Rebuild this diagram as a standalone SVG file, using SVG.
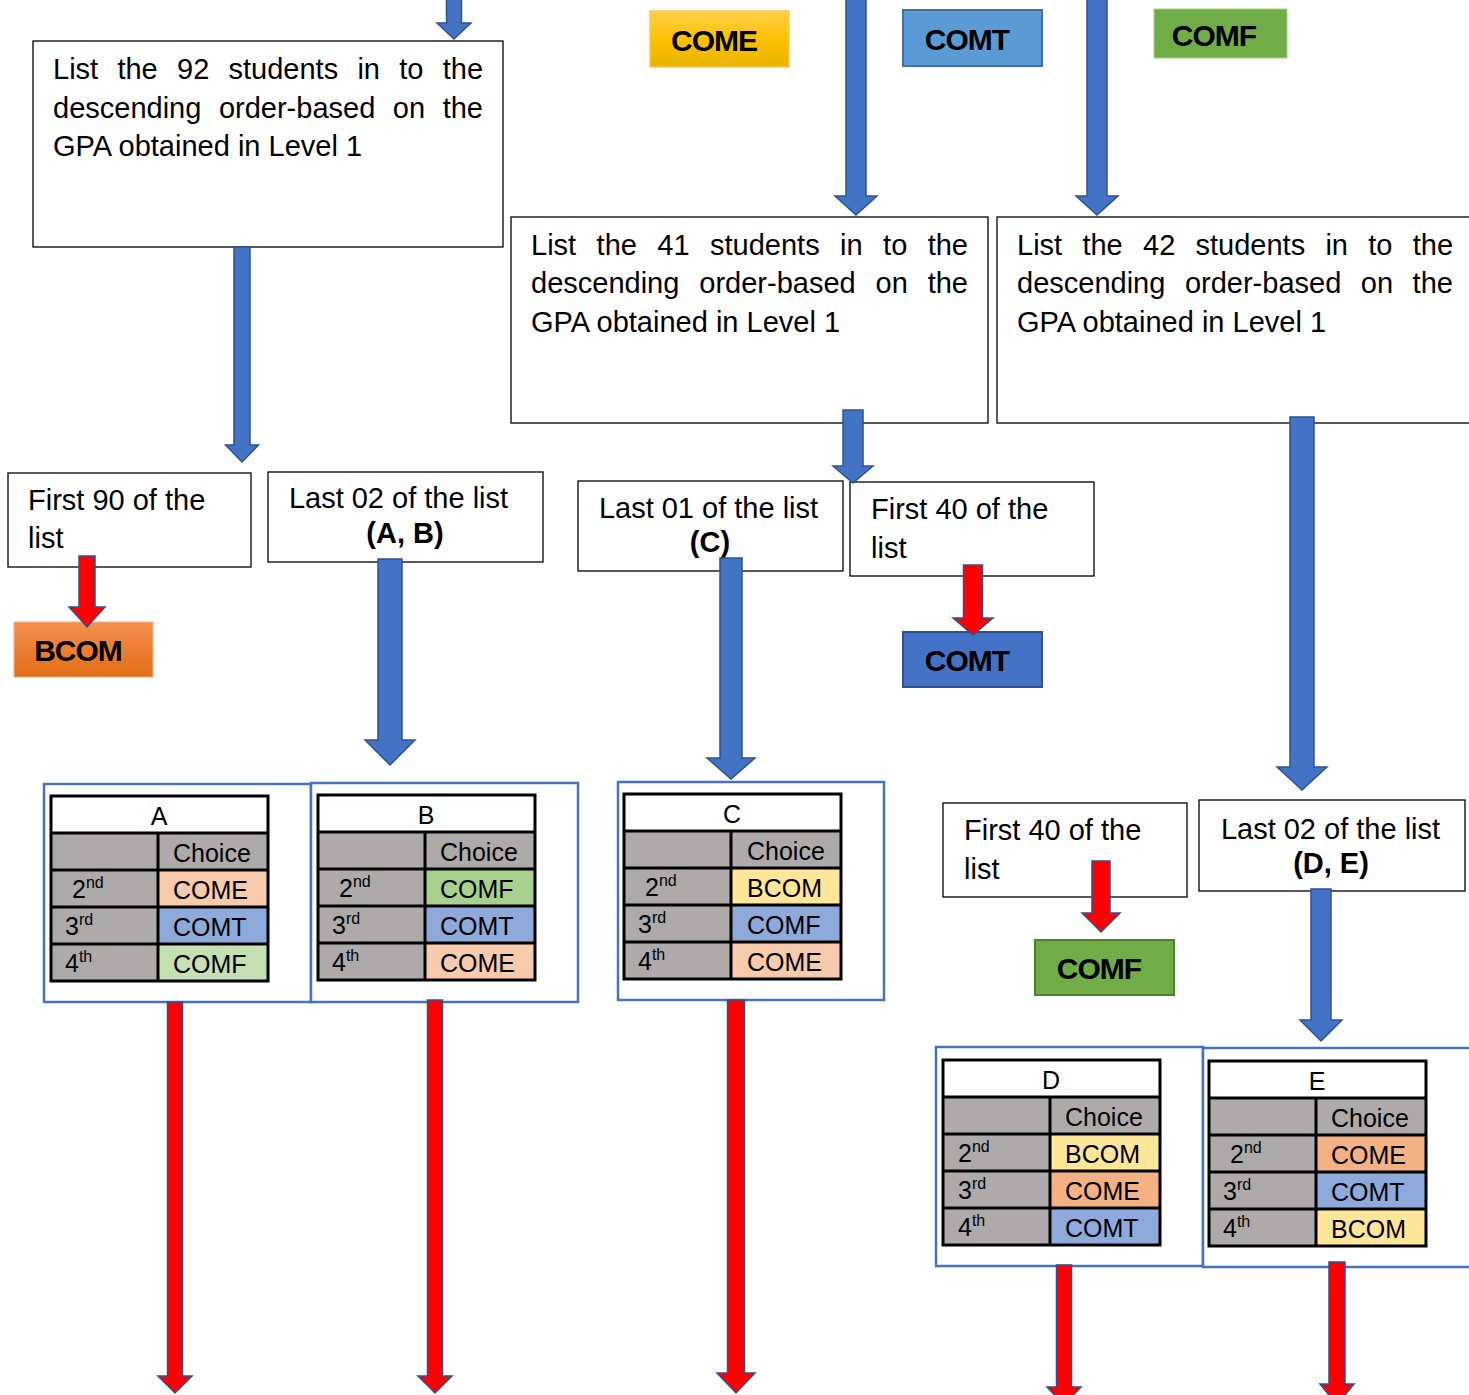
<svg xmlns="http://www.w3.org/2000/svg" width="1469" height="1395" viewBox="0 0 1469 1395">
  <style>
    .t{font-family:"Liberation Sans",Arial,sans-serif;font-size:29px;fill:#000}
    .b{font-weight:bold}
    .tag{font-family:"Liberation Sans",Arial,sans-serif;font-size:30px;font-weight:bold;letter-spacing:-1px;fill:#000;text-anchor:middle}
    .box{fill:#fff;stroke:#000;stroke-width:1.3}
    .blue{fill:#4472C4;stroke:#2F528F;stroke-width:1.5}
    .red{fill:#FF0000;stroke:#2F528F;stroke-width:1.5}
    .frame{fill:#fff;stroke:#4472C4;stroke-width:2.5}
    .tc{font-family:"Liberation Sans",Arial,sans-serif;font-size:25px;fill:#000}
    .sup{font-size:16px}
    .grid{fill:none;stroke:#000;stroke-width:3}
    .gray{fill:#AEAAAA}
    .mid{text-anchor:middle}
  </style>
  <defs>
    <linearGradient id="gGold" x1="0" y1="0" x2="0" y2="1">
      <stop offset="0" stop-color="#FFD04A"/>
      <stop offset="0.5" stop-color="#FFC000"/>
      <stop offset="1" stop-color="#E8B400"/>
    </linearGradient>
    <linearGradient id="gOrange" x1="0" y1="0" x2="0" y2="1">
      <stop offset="0" stop-color="#F3914F"/>
      <stop offset="1" stop-color="#E56B16"/>
    </linearGradient>
    <!-- shared table grid: header + 4 rows, two columns -->
    <path id="tblGrid" class="grid" d="M0,0H217V185H0Z M0,37H217 M0,74H217 M0,111H217 M0,148H217 M107,37V185"/>
  </defs>

  <!-- programme tags -->
  <g id="tag-come"><rect x="650" y="11" width="139" height="56" fill="url(#gGold)" stroke="#FFC94A" stroke-width="1.5"/><text class="tag" x="714" y="51">COME</text></g>
  <g id="tag-comt"><rect x="903" y="10" width="139" height="56" fill="#5B9BD5" stroke="#41719C" stroke-width="2"/><text class="tag" x="967" y="50">COMT</text></g>
  <g id="tag-comf"><rect x="1154" y="9" width="133" height="49" fill="#70AD47" stroke="#A9D18E" stroke-width="1"/><text class="tag" x="1214" y="46">COMF</text></g>

  <!-- ranking boxes -->
  <g id="list92">
    <rect class="box" x="33" y="41" width="470" height="206"/>
    <text class="t" y="79"><tspan x="53">List</tspan><tspan x="117.4">the</tspan><tspan x="177">92</tspan><tspan x="228.5">students</tspan><tspan x="357.4">in</tspan><tspan x="399.3">to</tspan><tspan x="442.8">the</tspan></text>
    <text class="t" y="117.5"><tspan x="53">descending</tspan><tspan x="218.9">order-based</tspan><tspan x="392.8">on</tspan><tspan x="442.7">the</tspan></text>
    <text class="t" x="53" y="156">GPA obtained in Level 1</text>
  </g>
  <g id="list41">
    <rect class="box" x="511" y="217" width="477" height="206"/>
    <text class="t" y="255"><tspan x="531">List</tspan><tspan x="596.6">the</tspan><tspan x="657.3">41</tspan><tspan x="710">students</tspan><tspan x="840">in</tspan><tspan x="883.1">to</tspan><tspan x="927.7">the</tspan></text>
    <text class="t" y="293"><tspan x="531">descending</tspan><tspan x="699.3">order-based</tspan><tspan x="875.5">on</tspan><tspan x="927.7">the</tspan></text>
    <text class="t" x="531" y="332">GPA obtained in Level 1</text>
  </g>
  <g id="list42">
    <rect class="box" x="997" y="217" width="480" height="206"/>
    <text class="t" y="255"><tspan x="1017">List</tspan><tspan x="1082.4">the</tspan><tspan x="1143">42</tspan><tspan x="1195.5">students</tspan><tspan x="1325.4">in</tspan><tspan x="1368.3">to</tspan><tspan x="1412.8">the</tspan></text>
    <text class="t" y="293"><tspan x="1017">descending</tspan><tspan x="1184.9">order-based</tspan><tspan x="1360.8">on</tspan><tspan x="1412.6">the</tspan></text>
    <text class="t" x="1017" y="332">GPA obtained in Level 1</text>
  </g>

  <!-- split boxes -->
  <g id="first90">
    <rect class="box" x="8" y="473" width="243" height="94"/>
    <text class="t" x="28" y="510">First 90 of the</text>
    <text class="t" x="28" y="548">list</text>
  </g>
  <g id="last02ab">
    <rect class="box" x="268" y="472" width="275" height="90"/>
    <text class="t mid" x="398.5" y="508">Last 02 of the list</text>
    <text class="t b mid" x="405" y="543">(A, B)</text>
  </g>
  <g id="last01c">
    <rect class="box" x="578" y="481" width="265" height="90"/>
    <text class="t mid" x="708.5" y="518">Last 01 of the list</text>
    <text class="t b mid" x="710" y="552">(C)</text>
  </g>
  <g id="first40a">
    <rect class="box" x="850" y="482" width="244" height="94"/>
    <text class="t" x="871" y="519">First 40 of the</text>
    <text class="t" x="871" y="558">list</text>
  </g>
  <g id="first40b">
    <rect class="box" x="943" y="803" width="244" height="94"/>
    <text class="t" x="964" y="840">First 40 of the</text>
    <text class="t" x="964" y="879">list</text>
  </g>
  <g id="last02de">
    <rect class="box" x="1199" y="800" width="266" height="91"/>
    <text class="t mid" x="1330.5" y="839">Last 02 of the list</text>
    <text class="t b mid" x="1331" y="873">(D, E)</text>
  </g>

  <!-- outcome tags -->
  <g id="out-bcom"><rect x="14" y="622" width="139" height="55" fill="url(#gOrange)" stroke="#F4B183" stroke-width="1"/><text class="tag" x="78" y="661">BCOM</text></g>
  <g id="out-comt"><rect x="903" y="632" width="139" height="55" fill="#4472C4" stroke="#2F528F" stroke-width="2"/><text class="tag" x="967" y="671">COMT</text></g>
  <g id="out-comf"><rect x="1035" y="940" width="139" height="55" fill="#70AD47" stroke="#507E32" stroke-width="2"/><text class="tag" x="1099" y="979">COMF</text></g>

  <!-- choice tables -->
  <g id="tableA" transform="translate(51,796)">
    <rect class="frame" x="-7" y="-12" width="267" height="218"/>
    <rect x="0" y="0" width="217" height="37" fill="#fff"/>
    <rect class="gray" x="0" y="37" width="217" height="148"/>
    <rect x="107" y="74" width="110" height="37" fill="#F8CBAD"/>
    <rect x="107" y="111" width="110" height="37" fill="#8EAADB"/>
    <rect x="107" y="148" width="110" height="37" fill="#C5E0B3"/>
    <use href="#tblGrid"/>
    <text class="tc mid" x="108" y="29">A</text>
    <text class="tc" x="122" y="66">Choice</text>
    <text class="tc" x="21" y="102">2<tspan class="sup" dy="-10">nd</tspan></text>
    <text class="tc" x="14" y="139">3<tspan class="sup" dy="-10">rd</tspan></text>
    <text class="tc" x="14" y="176">4<tspan class="sup" dy="-10">th</tspan></text>
    <text class="tc" x="122" y="103">COME</text>
    <text class="tc" x="122" y="140">COMT</text>
    <text class="tc" x="122" y="177">COMF</text>
  </g>
  <g id="tableB" transform="translate(318,795)">
    <rect class="frame" x="-7" y="-12" width="267" height="219"/>
    <rect x="0" y="0" width="217" height="37" fill="#fff"/>
    <rect class="gray" x="0" y="37" width="217" height="148"/>
    <rect x="107" y="74" width="110" height="37" fill="#A9D18E"/>
    <rect x="107" y="111" width="110" height="37" fill="#8EAADB"/>
    <rect x="107" y="148" width="110" height="37" fill="#F8CBAD"/>
    <use href="#tblGrid"/>
    <text class="tc mid" x="108" y="29">B</text>
    <text class="tc" x="122" y="66">Choice</text>
    <text class="tc" x="21" y="102">2<tspan class="sup" dy="-10">nd</tspan></text>
    <text class="tc" x="14" y="139">3<tspan class="sup" dy="-10">rd</tspan></text>
    <text class="tc" x="14" y="176">4<tspan class="sup" dy="-10">th</tspan></text>
    <text class="tc" x="122" y="103">COMF</text>
    <text class="tc" x="122" y="140">COMT</text>
    <text class="tc" x="122" y="177">COME</text>
  </g>
  <g id="tableC" transform="translate(624,794)">
    <rect class="frame" x="-6" y="-12" width="266" height="218"/>
    <rect x="0" y="0" width="217" height="37" fill="#fff"/>
    <rect class="gray" x="0" y="37" width="217" height="148"/>
    <rect x="108" y="74" width="109" height="37" fill="#FFE699"/>
    <rect x="108" y="111" width="109" height="37" fill="#8EAADB"/>
    <rect x="108" y="148" width="109" height="37" fill="#F8CBAD"/>
    <use href="#tblGrid"/>
    <text class="tc mid" x="108" y="29">C</text>
    <text class="tc" x="123" y="66">Choice</text>
    <text class="tc" x="21" y="102">2<tspan class="sup" dy="-10">nd</tspan></text>
    <text class="tc" x="14" y="139">3<tspan class="sup" dy="-10">rd</tspan></text>
    <text class="tc" x="14" y="176">4<tspan class="sup" dy="-10">th</tspan></text>
    <text class="tc" x="123" y="103">BCOM</text>
    <text class="tc" x="123" y="140">COMF</text>
    <text class="tc" x="123" y="177">COME</text>
  </g>
  <g id="tableD" transform="translate(943,1060)">
    <rect class="frame" x="-7" y="-13" width="267" height="219"/>
    <rect x="0" y="0" width="217" height="37" fill="#fff"/>
    <rect class="gray" x="0" y="37" width="217" height="148"/>
    <rect x="107" y="74" width="110" height="37" fill="#FFE699"/>
    <rect x="107" y="111" width="110" height="37" fill="#F4B183"/>
    <rect x="107" y="148" width="110" height="37" fill="#8EAADB"/>
    <use href="#tblGrid"/>
    <text class="tc mid" x="108" y="29">D</text>
    <text class="tc" x="122" y="66">Choice</text>
    <text class="tc" x="15" y="102">2<tspan class="sup" dy="-10">nd</tspan></text>
    <text class="tc" x="15" y="139">3<tspan class="sup" dy="-10">rd</tspan></text>
    <text class="tc" x="15" y="176">4<tspan class="sup" dy="-10">th</tspan></text>
    <text class="tc" x="122" y="103">BCOM</text>
    <text class="tc" x="122" y="140">COME</text>
    <text class="tc" x="122" y="177">COMT</text>
  </g>
  <g id="tableE" transform="translate(1209,1061)">
    <rect class="frame" x="-6" y="-13" width="272" height="219"/>
    <rect x="0" y="0" width="217" height="37" fill="#fff"/>
    <rect class="gray" x="0" y="37" width="217" height="148"/>
    <rect x="107" y="74" width="110" height="37" fill="#F4B183"/>
    <rect x="107" y="111" width="110" height="37" fill="#8EAADB"/>
    <rect x="107" y="148" width="110" height="37" fill="#FFE699"/>
    <use href="#tblGrid"/>
    <text class="tc mid" x="108" y="29">E</text>
    <text class="tc" x="122" y="66">Choice</text>
    <text class="tc" x="21" y="102">2<tspan class="sup" dy="-10">nd</tspan></text>
    <text class="tc" x="14" y="139">3<tspan class="sup" dy="-10">rd</tspan></text>
    <text class="tc" x="14" y="176">4<tspan class="sup" dy="-10">th</tspan></text>
    <text class="tc" x="122" y="103">COME</text>
    <text class="tc" x="122" y="140">COMT</text>
    <text class="tc" x="122" y="177">BCOM</text>
  </g>

  <!-- block arrows -->
  <g id="connectors">
    <path class="blue" d="M446.5,-2H461.5V23H471L454,39L437,23H446.5Z"/>
    <path class="blue" d="M846,-2H866V196H877L856,215L835,196H846Z"/>
    <path class="blue" d="M1087,-2H1107V196H1118L1097,215L1076,196H1087Z"/>
    <path class="blue" d="M234,247H250V445H258.5L242,462L225.5,445H234Z"/>
    <path class="blue" d="M843,410H863V466H873L853,483L833,466H843Z"/>
    <path class="blue" d="M378,559H402V740H415L390,765L365,740H378Z"/>
    <path class="blue" d="M720,558H742V758H755L731,779L707,758H720Z"/>
    <path class="blue" d="M1290,417H1314V767H1327L1302,790L1277,767H1290Z"/>
    <path class="blue" d="M1311,889H1331V1020H1342L1321,1041L1300,1020H1311Z"/>
    <path class="red" d="M79,556H95V607H105L87,627L69,607H79Z"/>
    <path class="red" d="M963.5,565H982.5V618H993L973,635L953,618H963.5Z"/>
    <path class="red" d="M1092,861H1110V913H1120L1101,932L1082,913H1092Z"/>
    <path class="red" d="M167.5,1002H182.5V1376H192L175,1393L158,1376H167.5Z"/>
    <path class="red" d="M427.5,1000H442.5V1376H452L435,1393L418,1376H427.5Z"/>
    <path class="red" d="M727.5,1000H744.5V1373H755L736,1393L717,1373H727.5Z"/>
    <path class="red" d="M1056.5,1265H1071.5V1387H1081L1064,1405L1047,1387H1056.5Z"/>
    <path class="red" d="M1329,1262H1345V1384H1354L1337,1405L1320,1384H1329Z"/>
  </g>
</svg>
